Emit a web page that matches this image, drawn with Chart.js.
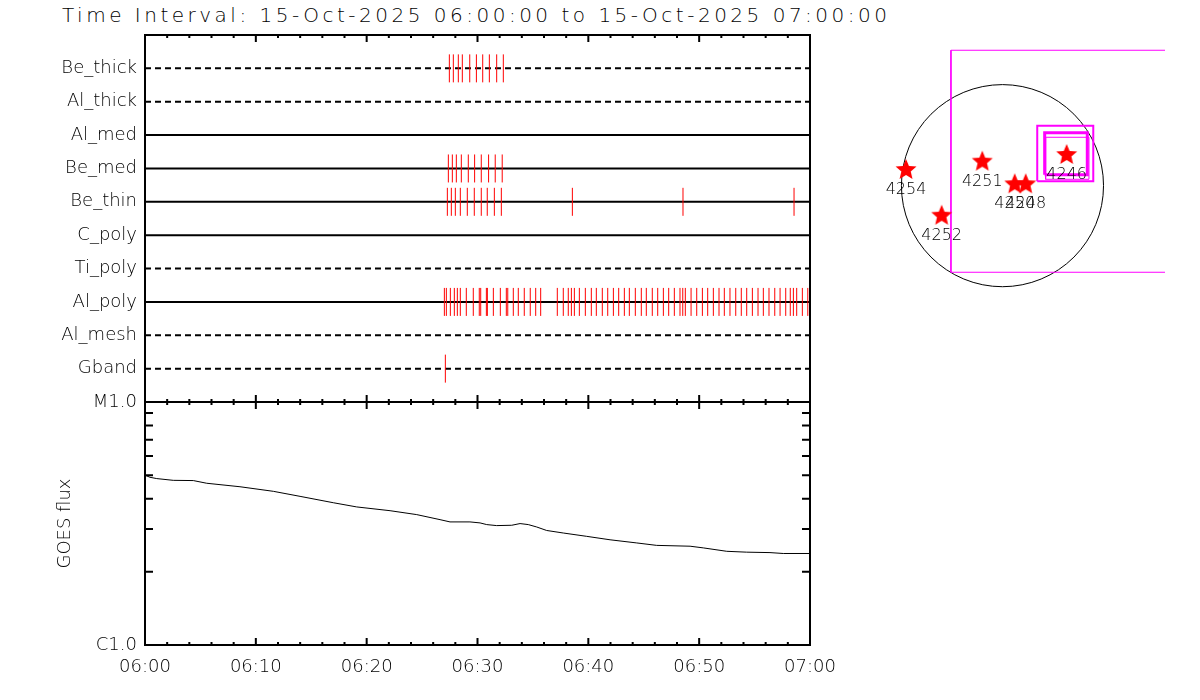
<!DOCTYPE html>
<html>
<head>
<meta charset="utf-8">
<script src="https://cdn.jsdelivr.net/npm/chart.js@4.4.1/dist/chart.umd.min.js"></script>
<style>
body { margin: 0; background: #fff; }
#page { position: relative; width: 1200px; height: 700px; overflow: hidden; }
#title { position: absolute; left: 62px; top: 5px; font: 200 20px/20px "DejaVu Sans"; letter-spacing: 3.5px; white-space: nowrap; color: #000; }
canvas { position: absolute; }
</style>
</head>
<body>
<div id="page">
<div id="title">Time Interval: 15-Oct-2025 06:00:00 to 15-Oct-2025 07:00:00</div>
<canvas id="timeline" width="830" height="403" style="left:0;top:0"></canvas>
<canvas id="goes" width="860" height="310" style="left:0;top:390px"></canvas>
<canvas id="sun" width="295" height="260" style="left:870px;top:40px"></canvas>
</div>
<script>
// filters, top row first
var filterNames = ['Be_thick', 'Al_thick', 'Al_med', 'Be_med', 'Be_thin', 'C_poly', 'Ti_poly', 'Al_poly', 'Al_mesh', 'Gband'];

// exposure times, minutes after 06:00
var beThickTimes = [27.46, 27.82, 28.27, 28.63, 29.30, 29.90, 30.47, 31.07, 31.73, 32.33];
var beMedTimes = [27.37, 27.73, 28.09, 28.54, 29.17, 29.74, 30.34, 31.00, 31.60, 32.23];
var beThinTimes = [27.28, 27.64, 28.00, 28.45, 29.08, 29.71, 30.34, 30.88, 31.52, 32.15, 38.56, 48.54, 58.56];
var alPolyTimes = [27.01, 27.19, 27.55, 27.91, 28.18, 28.45, 28.99, 29.62, 30.16, 30.29, 30.80, 30.89,
    31.43, 32.06, 32.60, 32.73, 33.23, 33.68, 34.22, 34.76, 35.25, 35.70, 37.20, 37.74, 38.19, 38.47,
    38.74, 39.19, 39.73, 40.27, 40.72, 41.26, 41.75, 42.26, 42.74, 43.25, 43.70, 44.24, 44.78, 45.23,
    45.77, 46.26, 46.77, 47.25, 47.76, 48.27, 48.52, 48.75, 49.27, 49.78, 50.29, 50.77, 51.28, 51.79,
    52.27, 52.78, 53.30, 53.80, 54.29, 54.80, 55.31, 55.79, 56.30, 56.82, 57.30, 57.81, 58.22, 58.50,
    58.80, 59.31, 59.80];
var gbandTimes = [27.10];
var filterTimes = [beThickTimes, [], [], beMedTimes, beThinTimes, [], [], alPolyTimes, [], gbandTimes];

var timeLabels = ['06:00', '06:10', '06:20', '06:30', '06:40', '06:50', '07:00'];

// GOES 1-8 A flux
var goesMinutes = [0, 0.45, 1.06, 2.55, 4.36, 5.57, 8.57, 11.58, 13.99, 16.99, 19.10, 22.11, 24.52, 26.62,
    27.52, 29.32, 30.23, 30.83, 31.73, 33.09, 33.84, 34.58, 35.34, 36.24, 37.74, 39.85, 41.96, 44.37,
    46.17, 49.18, 50.37, 52.49, 54.29, 56.39, 57.59, 60];
var goesFlux = [5.00e-6, 4.90e-6, 4.84e-6, 4.76e-6, 4.75e-6, 4.63e-6, 4.48e-6, 4.29e-6, 4.09e-6, 3.85e-6,
    3.70e-6, 3.57e-6, 3.44e-6, 3.28e-6, 3.21e-6, 3.21e-6, 3.18e-6, 3.13e-6, 3.10e-6, 3.11e-6, 3.16e-6,
    3.13e-6, 3.06e-6, 2.96e-6, 2.89e-6, 2.80e-6, 2.71e-6, 2.63e-6, 2.57e-6, 2.55e-6, 2.51e-6, 2.43e-6,
    2.41e-6, 2.40e-6, 2.38e-6, 2.38e-6];
var fluxTickValues = [1e-6, 1e-5];
var fluxTickLabels = ['C1.0', 'M1.0'];

// active regions, arcsec from disk centre
var arNumbers = ['4254', '4251', '4252', '4250', '4248', '4246'];
var arX = [-921, -193, -581, 117, 222, 613];
var arY = [150, 229, -287, 13, 13, 293];
var solarRadius = 965;
// fields of view [x0, y0, x1, y1]
var fovBoxes = [[-492, -827, 1628, 1293], [332, 42, 867, 573], [403, 105, 810, 506], [412, 61, 826, 462]];

// styles
var dashedFilters = ['Be_thick', 'Al_thick', 'Ti_poly', 'Al_mesh', 'Gband'];
var fovWidths = [1, 2, 3, 1];
var labelFont = {family: 'DejaVu Sans', size: 18, weight: '200'};

Chart.defaults.color = '#000';
Chart.defaults.font.family = 'DejaVu Sans';

function noPad(s) {
    s.paddingLeft = 0;
    s.paddingRight = 0;
    s.paddingTop = 0;
    s.paddingBottom = 0;
}

// IDL style frame with inward ticks
var idlFrame = {
    id: 'idlFrame',
    afterDatasetsDraw: function (chart, args, opts) {
        var ctx = chart.ctx,
            a = chart.chartArea,
            xs = chart.scales.x;
        ctx.save();
        ctx.strokeStyle = '#000';
        ctx.lineWidth = 2;
        ctx.strokeRect(a.left, a.top, a.right - a.left, a.bottom - a.top);
        ctx.beginPath();
        xs.ticks.forEach(function (t) {
            var px = xs.getPixelForValue(t.value);
            var len = t.value % 10 === 0 ? 7 : 3;
            ctx.moveTo(px, a.top);
            ctx.lineTo(px, a.top + len);
            ctx.moveTo(px, a.bottom);
            ctx.lineTo(px, a.bottom - len);
        });
        if (opts.yTicks) {
            var ys = chart.scales.y;
            ys.ticks.forEach(function (t) {
                var py = ys.getPixelForValue(t.value);
                ctx.moveTo(a.left, py);
                ctx.lineTo(a.left + 8, py);
                ctx.moveTo(a.right, py);
                ctx.lineTo(a.right - 8, py);
            });
        }
        ctx.stroke();
        ctx.restore();
    }
};

var rowLineSets = filterNames.map(function (name, i) {
    return {
        data: [{x: 0, y: i + 1}, {x: 60, y: i + 1}],
        showLine: true,
        borderColor: '#000',
        borderWidth: 2,
        borderDash: dashedFilters.indexOf(name) >= 0 ? [6, 4] : [],
        pointRadius: 0,
        order: 2
    };
});

var eventSets = filterTimes.map(function (times, i) {
    return {
        data: times.map(function (t) {
            return {x: t, y: i + 1};
        }),
        showLine: false,
        pointStyle: 'line',
        pointRotation: 90,
        pointRadius: 14,
        pointBorderColor: 'red',
        pointBorderWidth: 1,
        order: 1
    };
});

new Chart(document.getElementById('timeline'), {
    type: 'scatter',
    data: {datasets: eventSets.concat(rowLineSets)},
    options: {
        responsive: false,
        animation: false,
        events: [],
        layout: {autoPadding: false, padding: {top: 35, right: 20, bottom: 1, left: 0}},
        plugins: {legend: {display: false}, tooltip: {enabled: false}, idlFrame: {yTicks: false}},
        scales: {
            x: {
                type: 'linear', min: 0, max: 60,
                ticks: {display: false, stepSize: 2},
                grid: {display: false, drawTicks: false},
                border: {display: false},
                afterFit: function (s) { s.height = 0; noPad(s); }
            },
            y: {
                type: 'linear', min: 0, max: 11, reverse: true,
                ticks: {
                    stepSize: 1, autoSkip: false, padding: 8, font: labelFont,
                    callback: function (v) { return filterNames[v - 1] || ''; }
                },
                grid: {display: false, drawTicks: false},
                border: {display: false},
                afterFit: function (s) { s.width = 145; noPad(s); }
            }
        }
    },
    plugins: [idlFrame]
});

new Chart(document.getElementById('goes'), {
    type: 'line',
    data: {
        datasets: [{
            data: goesMinutes.map(function (m, i) { return {x: m, y: goesFlux[i]}; }),
            borderColor: '#000',
            borderWidth: 1,
            pointRadius: 0,
            tension: 0
        }]
    },
    options: {
        responsive: false,
        animation: false,
        events: [],
        layout: {autoPadding: false, padding: {top: 12, right: 50, bottom: 0, left: 0}},
        plugins: {legend: {display: false}, tooltip: {enabled: false}, idlFrame: {yTicks: true}},
        scales: {
            x: {
                type: 'linear', min: 0, max: 60,
                ticks: {
                    stepSize: 2, autoSkip: false, maxRotation: 0, padding: 12, font: labelFont,
                    callback: function (v) { return v % 10 === 0 ? timeLabels[v / 10] : ''; }
                },
                grid: {display: false, drawTicks: false},
                border: {display: false},
                afterFit: function (s) { s.height = 55; noPad(s); }
            },
            y: {
                type: 'logarithmic', min: 1e-6, max: 1e-5,
                ticks: {
                    autoSkip: false, padding: 8, font: labelFont,
                    callback: function (v) {
                        for (var k = 0; k < fluxTickValues.length; k++) {
                            if (Math.abs(v / fluxTickValues[k] - 1) < 1e-6) return fluxTickLabels[k];
                        }
                        return '';
                    }
                },
                title: {display: true, text: 'GOES flux', font: labelFont, padding: {top: 55, bottom: 0}},
                grid: {display: false, drawTicks: false},
                border: {display: false},
                afterFit: function (s) { s.width = 145; noPad(s); }
            }
        }
    },
    plugins: [idlFrame]
});

function makeStar(r) {
    var c = document.createElement('canvas');
    c.width = c.height = 2 * r + 2;
    var ctx = c.getContext('2d');
    ctx.fillStyle = 'red';
    ctx.beginPath();
    for (var k = 0; k < 10; k++) {
        var rad = k % 2 === 0 ? r : r * 0.45;
        var ang = -Math.PI / 2 + k * Math.PI / 5;
        var px = r + 1 + rad * Math.cos(ang),
            py = r + 1 + rad * Math.sin(ang);
        if (k === 0) ctx.moveTo(px, py); else ctx.lineTo(px, py);
    }
    ctx.closePath();
    ctx.fill();
    return c;
}

var boxSets = fovBoxes.map(function (b, i) {
    return {
        data: [{x: b[0], y: b[1]}, {x: b[2], y: b[1]}, {x: b[2], y: b[3]}, {x: b[0], y: b[3]}, {x: b[0], y: b[1]}],
        showLine: true,
        borderColor: '#ff00ff',
        borderWidth: fovWidths[i],
        pointRadius: 0,
        order: 2
    };
});

var starSet = {
    data: arX.map(function (x, i) { return {x: x, y: arY[i]}; }),
    showLine: false,
    pointStyle: makeStar(11),
    pointRadius: 5,
    order: 1
};

var sunDisk = {
    id: 'sunDisk',
    beforeDatasetsDraw: function (chart) {
        var ctx = chart.ctx,
            xs = chart.scales.x,
            ys = chart.scales.y;
        var cx = xs.getPixelForValue(0),
            cy = ys.getPixelForValue(0),
            r = xs.getPixelForValue(solarRadius) - cx;
        ctx.save();
        ctx.strokeStyle = '#000';
        ctx.lineWidth = 1;
        ctx.beginPath();
        ctx.arc(cx, cy, r, 0, 2 * Math.PI);
        ctx.stroke();
        ctx.restore();
    },
    afterDatasetsDraw: function (chart) {
        var ctx = chart.ctx,
            xs = chart.scales.x,
            ys = chart.scales.y;
        ctx.save();
        ctx.fillStyle = '#000';
        ctx.font = '200 16px "DejaVu Sans"';
        ctx.textAlign = 'center';
        ctx.textBaseline = 'middle';
        for (var i = 0; i < arNumbers.length; i++) {
            ctx.fillText(arNumbers[i], xs.getPixelForValue(arX[i]), ys.getPixelForValue(arY[i]) + 20);
        }
        ctx.restore();
    }
};

new Chart(document.getElementById('sun'), {
    type: 'scatter',
    data: {datasets: [starSet].concat(boxSets)},
    options: {
        responsive: false,
        animation: false,
        events: [],
        layout: {autoPadding: false, padding: 0},
        plugins: {legend: {display: false}, tooltip: {enabled: false}},
        scales: {
            x: {type: 'linear', display: false, min: -1265, max: 1552},
            y: {type: 'linear', display: false, min: -1092, max: 1391}
        }
    },
    plugins: [sunDisk]
});
</script>
</body>
</html>
